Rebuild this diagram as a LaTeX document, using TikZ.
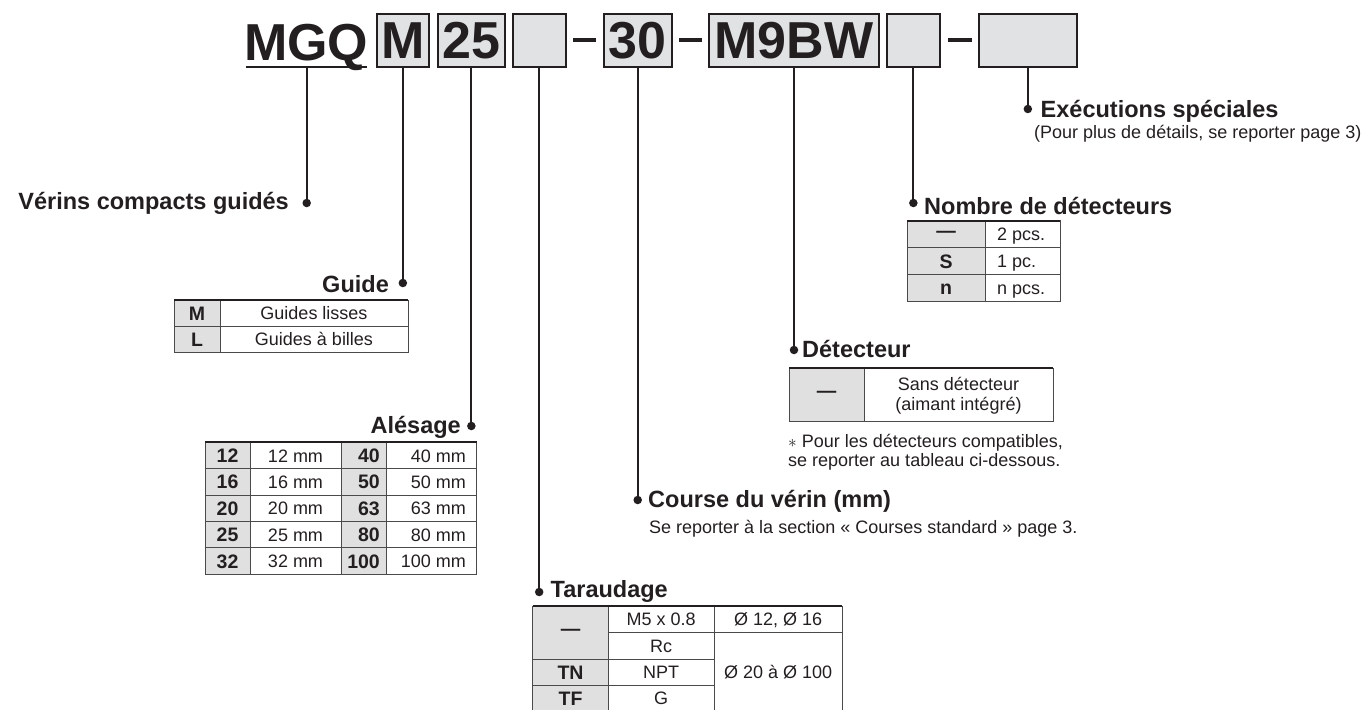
\documentclass[tikz,border=0pt]{standalone}
\usepackage{fontspec}
\setmainfont{Liberation Sans}
\definecolor{ink}{HTML}{231F20}
\definecolor{boxfill}{HTML}{E1E2E4}
\definecolor{keyfill}{HTML}{E0E0E1}
\definecolor{rule}{HTML}{4A4A4C}
\begin{document}
\begin{tikzpicture}[x=1pt,y=-1pt,
  hbox/.style={draw=ink,line width=2pt,fill=boxfill,inner sep=0pt,minimum height=52.4pt,font=\fontsize{52}{60}\selectfont\bfseries,text=ink},
  hdr/.style={inner sep=0pt,font=\fontsize{52}{60}\selectfont\bfseries,text=ink},
  conn/.style={draw=ink,line width=2pt},
  sep/.style={draw=ink,line width=3.5pt},
  dot/.style={circle,fill=ink,inner sep=0pt,minimum size=8.5pt},
  lab/.style={inner sep=0pt,font=\fontsize{23.5}{28}\selectfont\bfseries,text=ink},
  txt/.style={inner sep=0pt,font=\fontsize{18}{21}\selectfont,text=ink},
  key/.style={inner sep=0pt,font=\fontsize{19.5}{23}\selectfont\bfseries,text=ink},
  grid/.style={draw=rule,line width=1pt},
  toprule/.style={draw=ink,line width=2pt},
]
\useasboundingbox (0,0) rectangle (1364,709);

% ---------- header ----------
\node[hdr,anchor=base] (mgq) at (306.2,60) {MGQ};
\coordinate (ulL) at (245.5,66.8);
\coordinate (ulR) at (367,66.8);
\coordinate (ulM) at (306.7,66.8);
\draw[conn] (ulL) -- (ulR);
\node[hbox,minimum width=52.3pt] (bM) at (402.85,40.5) {M};
\node[hbox,minimum width=67.3pt] (b25) at (471.35,40.5) {25};
\node[hbox,minimum width=53pt] (bE1) at (539.2,40.5) {};
\node[hbox,minimum width=68pt] (b30) at (637.7,40.5) {30};
\node[hbox,minimum width=170pt] (bM9) at (794,40.5) {M9BW};
\node[hbox,minimum width=52.7pt] (bE2) at (913.35,40.5) {};
\node[hbox,minimum width=97.7pt] (bE3) at (1027.85,40.5) {};
\draw[sep] (573,40) -- (596,40);
\draw[sep] (679,40) -- (702,40);
\draw[sep] (948,40) -- (971.7,40);

% ---------- bullets ----------
\node[dot] (dVer) at (306.7,203) {};
\node[dot] (dGui) at (402.85,283) {};
\node[dot] (dAle) at (471.35,426) {};
\node[dot] (dTar) at (539.2,592) {};
\node[dot] (dCou) at (637.7,500) {};
\node[dot] (dDet) at (794,350) {};
\node[dot] (dNom) at (913.35,203) {};
\node[dot] (dExe) at (1027.85,109) {};

\draw[conn] (ulM) -- (dVer);
\draw[conn] (bM.south) -- (dGui);
\draw[conn] (b25.south) -- (dAle);
\draw[conn] (bE1.south) -- (dTar);
\draw[conn] (b30.south) -- (dCou);
\draw[conn] (bM9.south) -- (dDet);
\draw[conn] (bE2.south) -- (dNom);
\draw[conn] (bE3.south) -- (dExe);

% ---------- labels ----------
\node[lab,anchor=base east] (lVer) at (289,209.5) {Vérins compacts guidés};
\node[lab,anchor=base east] (lGui) at (389,292) {Guide};
\node[lab,anchor=base east] (lAle) at (461,433) {Alésage};
\node[lab,anchor=base west] (lTar) at (550.5,597) {Taraudage};
\node[lab,anchor=base west] (lCou) at (648,507) {Course du vérin (mm)};
\node[txt,anchor=base west] (sCou) at (649,533) {Se reporter à la section «~Courses standard~» page 3.};
\node[lab,anchor=base west] (lDet) at (802,357) {Détecteur};
\node[lab,anchor=base west] (lNom) at (924,214.5) {Nombre de détecteurs};
\node[lab,anchor=base west] (lExe) at (1040.5,117.5) {Exécutions spéciales};
\node[txt,anchor=base west] (sExe) at (1034,138.5) {(Pour plus de détails, se reporter page 3)};

% ---------- Guide table ----------
\fill[keyfill] (174,300) rectangle (220,352);
\draw[grid] (174,300) rectangle (408.3,352);
\draw[grid] (220,300) -- (220,352);
\draw[grid] (174,326) -- (408.3,326);
\draw[toprule] (174,300) -- (408.3,300);
\node[key,anchor=base] (gMk) at (197,320) {M};
\node[txt,anchor=base] (gMv) at (314,319.5) {Guides lisses};
\node[key,anchor=base] (gLk) at (197,346) {L};
\node[txt,anchor=base] (gLv) at (314,345.5) {Guides à billes};

% ---------- Alesage table ----------
\fill[keyfill] (205,442.3) rectangle (250,574.3);
\fill[keyfill] (341,442.3) rectangle (386,574.3);
\draw[grid] (205,442.3) rectangle (476.7,574.3);
\foreach \xx in {250,341,386} \draw[grid] (\xx,442.3) -- (\xx,574.3);
\foreach \yy in {468.7,495.1,521.5,547.9} \draw[grid] (205,\yy) -- (476.7,\yy);
\draw[toprule] (205,442.3) -- (476.7,442.3);
\foreach \k/\kk [count=\i] in {12/40,16/50,20/63,25/80,32/100} {
  \pgfmathsetmacro\yc{442.3+26.4*(\i-0.5)}
  \node[key,anchor=base] (ak\i) at (227.5,{\yc+7}) {\k};
  \node[txt,anchor=base] (av\i) at (295.5,{\yc+6.5}) {\k{} mm};
  \node[key,anchor=base east] (bk\i) at (380,{\yc+7}) {\kk};
  \node[txt,anchor=base east] (bv\i) at (466,{\yc+6.5}) {\kk{} mm};
}

% ---------- Taraudage table ----------
\fill[keyfill] (532.7,606) rectangle (608.3,711);
\draw[grid] (532.7,606) -- (532.7,711);
\draw[grid] (608.3,606) -- (608.3,711);
\draw[grid] (714,606) -- (714,711);
\draw[grid] (842.3,606) -- (842.3,711);
\draw[grid] (608.3,632) -- (842.3,632);
\draw[grid] (532.7,659) -- (714,659);
\draw[grid] (532.7,685.5) -- (714,685.5);
\draw[toprule] (532.7,606) -- (842.3,606);
\node[key,anchor=center] (tk1) at (570.5,632.5) {—};
\node[key,anchor=base] (tk2) at (570.5,679) {TN};
\node[key,anchor=base] (tk3) at (570.5,705) {TF};
\node[txt,anchor=base] (tv1) at (661.2,625.5) {M5 x 0.8};
\node[txt,anchor=base] (tv2) at (661.2,652) {Rc};
\node[txt,anchor=base] (tv3) at (661.2,678.5) {NPT};
\node[txt,anchor=base] (tv4) at (661.2,704.5) {G};
\node[txt,anchor=base] (tw1) at (778.2,625.5) {Ø 12, Ø 16};
\node[txt,anchor=base] (tw2) at (778.2,678) {Ø 20 à Ø 100};

% ---------- Nombre table ----------
\fill[keyfill] (907,220.7) rectangle (985,301);
\draw[grid] (907,220.7) rectangle (1060,301);
\draw[grid] (985,220.7) -- (985,301);
\draw[grid] (907,247.5) -- (1060,247.5);
\draw[grid] (907,274.3) -- (1060,274.3);
\draw[toprule] (907,220.7) -- (1060,220.7);
\node[key,anchor=center] (nk1) at (946,234.1) {—};
\node[key,anchor=base] (nk2) at (946,268) {S};
\node[key,anchor=base] (nk3) at (946,294.7) {n};
\node[txt,anchor=base west] (nv1) at (997,240.6) {2 pcs.};
\node[txt,anchor=base west] (nv2) at (997,267.4) {1 pc.};
\node[txt,anchor=base west] (nv3) at (997,294.2) {n pcs.};

% ---------- Detecteur table ----------
\fill[keyfill] (789,368) rectangle (864,421);
\draw[grid] (789,368) rectangle (1053,421);
\draw[grid] (864,368) -- (864,421);
\draw[toprule] (789,368) -- (1053,368);
\node[key,anchor=center] (dk1) at (826.5,394.5) {—};
\node[txt,align=center,font=\fontsize{18}{20}\selectfont,anchor=center] (dv1) at (958.5,395.5) {Sans détecteur\\(aimant intégré)};
\node[txt,anchor=base west] (dn1) at (788,447) {$\ast$ Pour les détecteurs compatibles,};
\node[txt,anchor=base west] (dn2) at (788,466.5) {se reporter au tableau ci-dessous.};
\end{tikzpicture}
\end{document}
